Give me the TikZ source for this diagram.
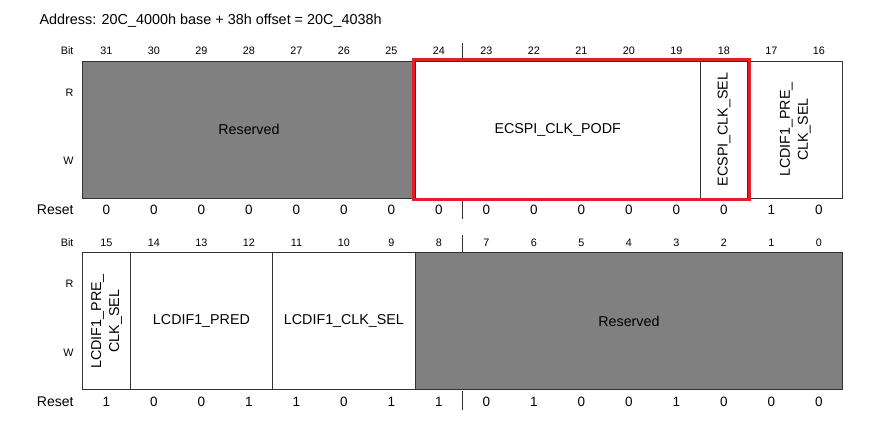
\documentclass[tikz,border=0pt]{standalone}
\usepackage{fontspec}
\setmainfont{Liberation Sans}
\usepackage{xcolor}
\usepackage{tikz}
\usetikzlibrary{
  positioning,
  fit,
}
\definecolor{regred}{RGB}{228,30,38}
\definecolor{resgray}{HTML}{808080}

\begin{document}
\begin{tikzpicture}[
    x=1pt, y=-1pt,
    field/.style={draw=black!80, line width=0.8pt, inner sep=0pt,
                  minimum height=137pt, font=\fontsize{14.3}{18}\selectfont},
    resfield/.style={field, fill=resgray},
    vfield/.style={field, rotate=90, align=center},
    bitnum/.style={font=\fontsize{10.8}{13}\selectfont},
    rstval/.style={font=\fontsize{13.5}{16}\selectfont},
    rowlbl/.style={anchor=east, font=\fontsize{10.8}{13}\selectfont},
    redbox/.style={draw=regred, line width=3pt, inner sep=1.3pt},
  ]
  \useasboundingbox (0,0) rectangle (894,423);

  \node[anchor=west, font=\fontsize{14.4}{17}\selectfont] (addr) at (36,21)
    {Address: 20C\_4000h base + 38h offset = 20C\_4038h};

  % upper half, bits 31..16
  \node[rowlbl] (bit1) at (77,51) {Bit};
  \node[rowlbl] (r1) at (77,93) {R};
  \node[rowlbl] (w1) at (77,161) {W};
  \node[rowlbl, font=\fontsize{14}{16}\selectfont] (rst1) at (77,210) {Reset};
  \foreach \b [count=\i from 0] in {31,30,29,28,27,26,25,24,23,22,21,20,19,18,17,16}
    \node[bitnum] (t\b) at ({106.45+\i*47.5},51) {\b};
  \foreach \v [count=\i from 0] in {0,0,0,0,0,0,0,0,0,0,0,0,0,0,1,0}
    \node[rstval] (tr\i) at ({106.45+\i*47.5},210) {\v};

  \node[resfield, minimum width=332.5pt] (res1) at (248.95,129.5) {Reserved};
  \node[field, minimum width=285pt] (podf) at (557.7,129.5) {ECSPI\_CLK\_PODF};
  \node[field, minimum width=47.5pt] (csel) at (723.95,129.5) {};
  \node[rotate=90, font=\fontsize{14.3}{18}\selectfont] (cseltxt) at (csel) {ECSPI\_CLK\_SEL};
  \node[field, minimum width=95pt] (lpre1) at (795.2,129.5) {};
  \node[rotate=90, align=center, font=\fontsize{14.3}{18}\selectfont] (lpretxt1) at (lpre1)
    {LCDIF1\_PRE\_\\CLK\_SEL};
  \node[redbox, fit=(podf)(csel)] (hilite) {};

  \draw[black!80, line width=0.8pt] (462.7,43) -- (462.7,59);
  \draw[black!80, line width=0.8pt] (462.7,201) -- (462.7,219);

  % lower half, bits 15..0
  \node[rowlbl] (bit2) at (77,243) {Bit};
  \node[rowlbl] (r2) at (77,284) {R};
  \node[rowlbl] (w2) at (77,353) {W};
  \node[rowlbl, font=\fontsize{14}{16}\selectfont] (rst2) at (77,402) {Reset};
  \foreach \b [count=\i from 0] in {15,14,13,12,11,10,9,8,7,6,5,4,3,2,1,0}
    \node[bitnum] (b\b) at ({106.45+\i*47.5},243) {\b};
  \foreach \v [count=\i from 0] in {1,0,0,1,1,0,1,1,0,1,0,0,1,0,0,0}
    \node[rstval] (br\i) at ({106.45+\i*47.5},402) {\v};

  \node[field, minimum width=47.5pt] (lpre2) at (106.45,321.35) {};
  \node[rotate=90, align=center, font=\fontsize{14.3}{18}\selectfont] (lpretxt2) at (lpre2)
    {LCDIF1\_PRE\_\\CLK\_SEL};
  \node[field, minimum width=142.5pt] (pred) at (201.45,321.35) {LCDIF1\_PRED};
  \node[field, minimum width=142.5pt] (lsel) at (343.95,321.35) {LCDIF1\_CLK\_SEL};
  \node[resfield, minimum width=427.5pt] (res2) at (628.95,321.35) {Reserved};

  \draw[black!80, line width=0.8pt] (462.7,235) -- (462.7,252);
  \draw[black!80, line width=0.8pt] (462.7,391) -- (462.7,410);
\end{tikzpicture}
\end{document}
